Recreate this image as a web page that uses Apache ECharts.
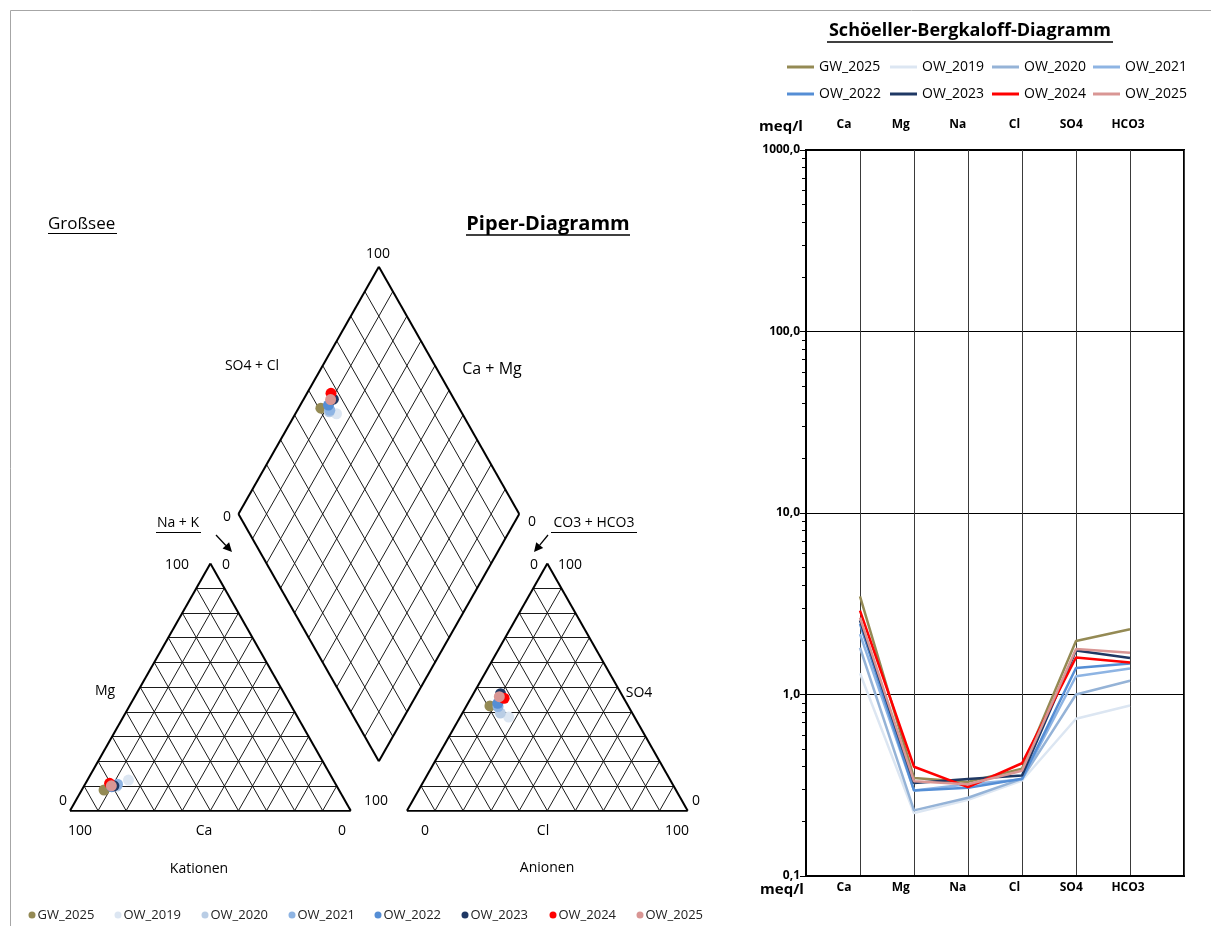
<!DOCTYPE html>
<html>
<head>
<meta charset="utf-8">
<script src="https://cdn.jsdelivr.net/npm/echarts@6/dist/echarts.min.js"></script>
<style>
html,body{margin:0;padding:0;background:#fff;}
#chart{width:1211px;height:926px;}
</style>
</head>
<body>
<div id="chart"></div>
<script>
// ---------- DATA (meq/l) ----------
const ions = ['Ca', 'Mg', 'Na', 'Cl', 'SO4', 'HCO3'];
const sampleNames = ['GW_2025', 'OW_2019', 'OW_2020', 'OW_2021', 'OW_2022', 'OW_2023', 'OW_2024', 'OW_2025'];
const GW_2025 = [3.47, 0.347, 0.33, 0.39, 1.97, 2.29];
const OW_2019 = [1.31, 0.222, 0.263, 0.336, 0.735, 0.87];
const OW_2020 = [1.81, 0.23, 0.27, 0.343, 1.0, 1.19];
const OW_2021 = [2.15, 0.296, 0.32, 0.34, 1.26, 1.39];
const OW_2022 = [2.45, 0.296, 0.306, 0.343, 1.40, 1.48];
const OW_2023 = [2.56, 0.325, 0.342, 0.358, 1.75, 1.59];
const OW_2024 = [2.9, 0.40, 0.309, 0.418, 1.60, 1.50];
const OW_2025 = [2.65, 0.333, 0.32, 0.38, 1.78, 1.70];
const yTickLabels = ['0,1', '1,0', '10,0', '100,0', '1000,0'];
const sampleValues = [GW_2025, OW_2019, OW_2020, OW_2021, OW_2022, OW_2023, OW_2024, OW_2025];

// ---------- STYLES ----------
const dotColors = ['#948A54', '#DCE6F2', '#B9CDE5', '#8EB4E3', '#558ED5', '#1F3864', '#FF0000', '#D99694'];
const lineColors = ['#948A54', '#DCE6F2', '#95B3D7', '#8EB4E3', '#558ED5', '#1F3864', '#FF0000', '#D99694'];
const FONT = '"Open Sans", "Noto Sans", sans-serif';

// ---------- PIPER GEOMETRY (triangle side = 100 units) ----------
const H = Math.sqrt(3) / 2 * 100;
const GAP = 20;
const AX = 100 + GAP;            // anion triangle x offset
const BX = 100 + GAP / 2;        // diamond bottom x
const BY = GAP * Math.sqrt(3) / 2; // diamond bottom y
const YMAX = BY + 2 * H;

function piperPoints(v) {
  const [ca, mg, na, cl, so4, hco3] = v;
  const cs = ca + mg + na, as = cl + so4 + hco3;
  const pCa = ca / cs * 100, pMg = mg / cs * 100, pNa = na / cs * 100;
  const pCl = cl / as * 100, pSO4 = so4 / as * 100;
  const cat = [pNa + pMg / 2, pMg * H / 100];
  const an = [AX + pCl + pSO4 / 2, pSO4 * H / 100];
  const cm = pCa + pMg, sc = pSO4 + pCl;
  const dia = [BX - cm / 2 + sc / 2, BY + (cm + sc) * H / 100];
  return [cat, an, dia];
}

function triGrid(ox) {
  const segs = [];
  for (let k = 1; k < 10; k++) {
    const t = k * 10;
    segs.push([[ox + t / 2, t * H / 100], [ox + 100 - t / 2, t * H / 100]]);
    segs.push([[ox + t, 0], [ox + t + (100 - t) / 2, (100 - t) * H / 100]]);
    segs.push([[ox + t, 0], [ox + t / 2, t * H / 100]]);
  }
  return segs;
}
function diamondGrid() {
  const segs = [];
  const u = [-50, H], v = [50, H];
  for (let k = 1; k < 10; k++) {
    const s = k / 10;
    const p = [BX + s * u[0], BY + s * u[1]];
    segs.push([p, [p[0] + v[0], p[1] + v[1]]]);
    const q = [BX + s * v[0], BY + s * v[1]];
    segs.push([q, [q[0] + u[0], q[1] + u[1]]]);
  }
  return segs;
}
const outlines = [
  [[0, 0], [100, 0]], [[100, 0], [50, H]], [[50, H], [0, 0]],
  [[AX, 0], [AX + 100, 0]], [[AX + 100, 0], [AX + 50, H]], [[AX + 50, H], [AX, 0]],
  [[BX, BY], [BX - 50, BY + H]], [[BX - 50, BY + H], [BX, BY + 2 * H]],
  [[BX, BY + 2 * H], [BX + 50, BY + H]], [[BX + 50, BY + H], [BX, BY]]
];
const innerSegs = triGrid(0).concat(triGrid(AX)).concat(diamondGrid());

// ---------- SERIES ----------
const series = [];
series.push({
  type: 'lines', coordinateSystem: 'cartesian2d', xAxisIndex: 0, yAxisIndex: 0, silent: true,
  lineStyle: { color: '#1a1a1a', width: 1, opacity: 1 },
  data: innerSegs.map(s => ({ coords: s })), z: 1
});
series.push({
  type: 'lines', coordinateSystem: 'cartesian2d', xAxisIndex: 0, yAxisIndex: 0, silent: true,
  lineStyle: { color: '#000', width: 2, opacity: 1 },
  data: outlines.map(s => ({ coords: s })), z: 2
});
sampleNames.forEach((n, i) => {
  series.push({
    name: n, type: 'scatter', xAxisIndex: 0, yAxisIndex: 0,
    symbol: 'circle', symbolSize: 11, z: 3,
    itemStyle: { color: dotColors[i], opacity: 1 },
    data: piperPoints(sampleValues[i])
  });
});
sampleNames.forEach((n, i) => {
  series.push({
    name: n, type: 'line', xAxisIndex: 1, yAxisIndex: 1,
    symbol: 'none', z: 3,
    lineStyle: { color: lineColors[i], width: 2.5 },
    itemStyle: { color: lineColors[i] },
    data: sampleValues[i].map((v, j) => [j + 1, v])
  });
});

// ---------- LEGENDS ----------
const legends = [];
const topX = [787, 890, 992, 1093];
const topY = [67, 94];
sampleNames.forEach((n, i) => {
  legends.push({
    left: topX[i % 4], top: topY[Math.floor(i / 4)] - 8, padding: 0,
    itemWidth: 27, itemHeight: 3, selectedMode: false,
    textStyle: { fontFamily: FONT, fontSize: 14, color: '#000', lineHeight: 16 },
    data: [{ name: n, icon: 'rect', itemStyle: { color: lineColors[i], borderWidth: 0 } }]
  });
});
const botX = [32, 118, 205, 292, 378, 465, 553, 640];
sampleNames.forEach((n, i) => {
  legends.push({
    left: botX[i] - 3.5, top: 915 - 8, padding: 0,
    itemWidth: 7, itemHeight: 7, itemGap: 0, selectedMode: false,
    textStyle: { fontFamily: FONT, fontSize: 13, color: '#222', lineHeight: 16, padding: [0, 0, 0, -3] },
    data: [{ name: n, icon: 'circle', itemStyle: { color: dotColors[i], borderWidth: 0 } }]
  });
});

// ---------- GRAPHIC TEXT ----------
function txt(text, x, y, size, bold, align) {
  return { type: 'text', x: x, y: y, silent: true, z: 10,
    style: { text: text, font: (bold ? 'bold ' : '') + size + 'px ' + FONT, fill: '#000',
      align: align || 'center', verticalAlign: 'middle' } };
}
function ln(x1, y1, x2, y2, w, c) {
  return { type: 'line', silent: true, z: 10, shape: { x1, y1, x2, y2 }, style: { stroke: c || '#000', lineWidth: w || 1 } };
}
function arrow(x1, y1, x2, y2) {
  const dx = x2 - x1, dy = y2 - y1, L = Math.hypot(dx, dy);
  const ux = dx / L, uy = dy / L, hl = 9, hw = 4.5;
  const bx = x2 - ux * hl, by = y2 - uy * hl;
  return [ln(x1, y1, bx, by, 1.3),
    { type: 'polygon', silent: true, z: 10,
      shape: { points: [[x2, y2], [bx - uy * hw, by + ux * hw], [bx + uy * hw, by - ux * hw]] },
      style: { fill: '#000' } }];
}
const graphics = [
  { type: 'rect', silent: true, z: 0, shape: { x: 10.5, y: 10.5, width: 1300, height: 1000 }, style: { fill: 'none', stroke: '#a6a6a6', lineWidth: 1 } },
  txt('Großsee', 48, 224, 17, false, 'left'), ln(48, 233.5, 117, 233.5, 1),
  txt('Piper-Diagramm', 548, 224, 20, true), ln(466, 235, 630, 235, 1.5),
  txt('Schöeller-Bergkaloff-Diagramm', 970, 31, 18, true), ln(827, 42, 1113, 42, 1.5),
  txt('100', 378, 254, 14), txt('SO4 + Cl', 252, 366, 14), txt('Ca + Mg', 492, 369, 16),
  txt('0', 227, 517, 14), txt('0', 532, 522, 14),
  txt('Na + K', 178, 523, 14), ln(156, 532.5, 201, 532.5, 1),
  txt('CO3 + HCO3', 594, 523, 14), ln(551, 532.5, 637, 532.5, 1),
  txt('100', 177, 565, 14), txt('0', 226, 565, 14),
  txt('0', 534, 565, 14), txt('100', 570, 565, 14),
  txt('Mg', 105, 691, 14), txt('0', 63, 801, 14), txt('100', 376, 801, 14),
  txt('100', 80, 831, 14), txt('Ca', 204, 831, 14), txt('0', 342, 831, 14),
  txt('Kationen', 199, 869, 14),
  txt('SO4', 639, 693, 14), txt('0', 696, 801, 14),
  txt('0', 425, 831, 14), txt('Cl', 543, 831, 14), txt('100', 677, 831, 14),
  txt('Anionen', 547, 868, 14),
  txt('meq/l', 781, 127, 15, true), txt('meq/l', 782, 890, 15, true)
].concat(arrow(216, 535, 232, 552)).concat(arrow(548, 535, 534, 552));

// ---------- OPTION ----------
const labelAxisBase = {
  gridIndex: 1, type: 'value', min: 0.33, max: 6.985,
  axisLine: { show: false }, axisTick: { show: false }, splitLine: { show: false },
  axisLabel: {
    customValues: [1, 2, 3, 4, 5, 6],
    formatter: v => ions[Math.round(v) - 1] || '',
    fontFamily: FONT, fontSize: 12, fontWeight: 'bold', color: '#000'
  }
};
const option = {
  animation: false,
  backgroundColor: '#fff',
  textStyle: { fontFamily: FONT },
  grid: [
    { left: 70, top: 266.7, width: 617.7, height: 544 },
    { left: 806, top: 150, width: 378, height: 726, show: true, borderColor: '#000', borderWidth: 2, backgroundColor: 'transparent' }
  ],
  xAxis: [
    { gridIndex: 0, type: 'value', min: 0, max: 2 * 100 + GAP, show: false },
    { gridIndex: 1, type: 'value', min: 0, max: 7, interval: 1,
      axisLine: { show: true, lineStyle: { color: '#000', width: 2 } },
      axisTick: { show: false }, axisLabel: { show: false },
      splitLine: { show: true, lineStyle: { color: '#3a3a3a', width: 1 } } },
    Object.assign({}, labelAxisBase, { position: 'bottom', axisLabel: Object.assign({}, labelAxisBase.axisLabel, { margin: 6 }) }),
    Object.assign({}, labelAxisBase, { position: 'top', axisLabel: Object.assign({}, labelAxisBase.axisLabel, { margin: 19 }) })
  ],
  yAxis: [
    { gridIndex: 0, type: 'value', min: 0, max: YMAX, show: false },
    { gridIndex: 1, type: 'log', logBase: 10, min: 0.1, max: 1000,
      axisLine: { show: true, lineStyle: { color: '#000', width: 2 } },
      axisTick: { show: true, length: 6, lineStyle: { color: '#000', width: 1 } },
      minorTick: { show: true, splitNumber: 9, length: 4, lineStyle: { color: '#000', width: 1 } },
      splitLine: { show: true, lineStyle: { color: '#000', width: 1 } },
      axisLabel: { margin: 6, fontFamily: FONT, fontSize: 12, fontWeight: 'bold', color: '#000',
        formatter: v => yTickLabels[Math.round(Math.log10(v)) + 1] || '' } }
  ],
  legend: legends,
  graphic: graphics,
  series: series
};
const chart = echarts.init(document.getElementById('chart'), null, { renderer: 'canvas' });
chart.setOption(option);
</script>
</body>
</html>
